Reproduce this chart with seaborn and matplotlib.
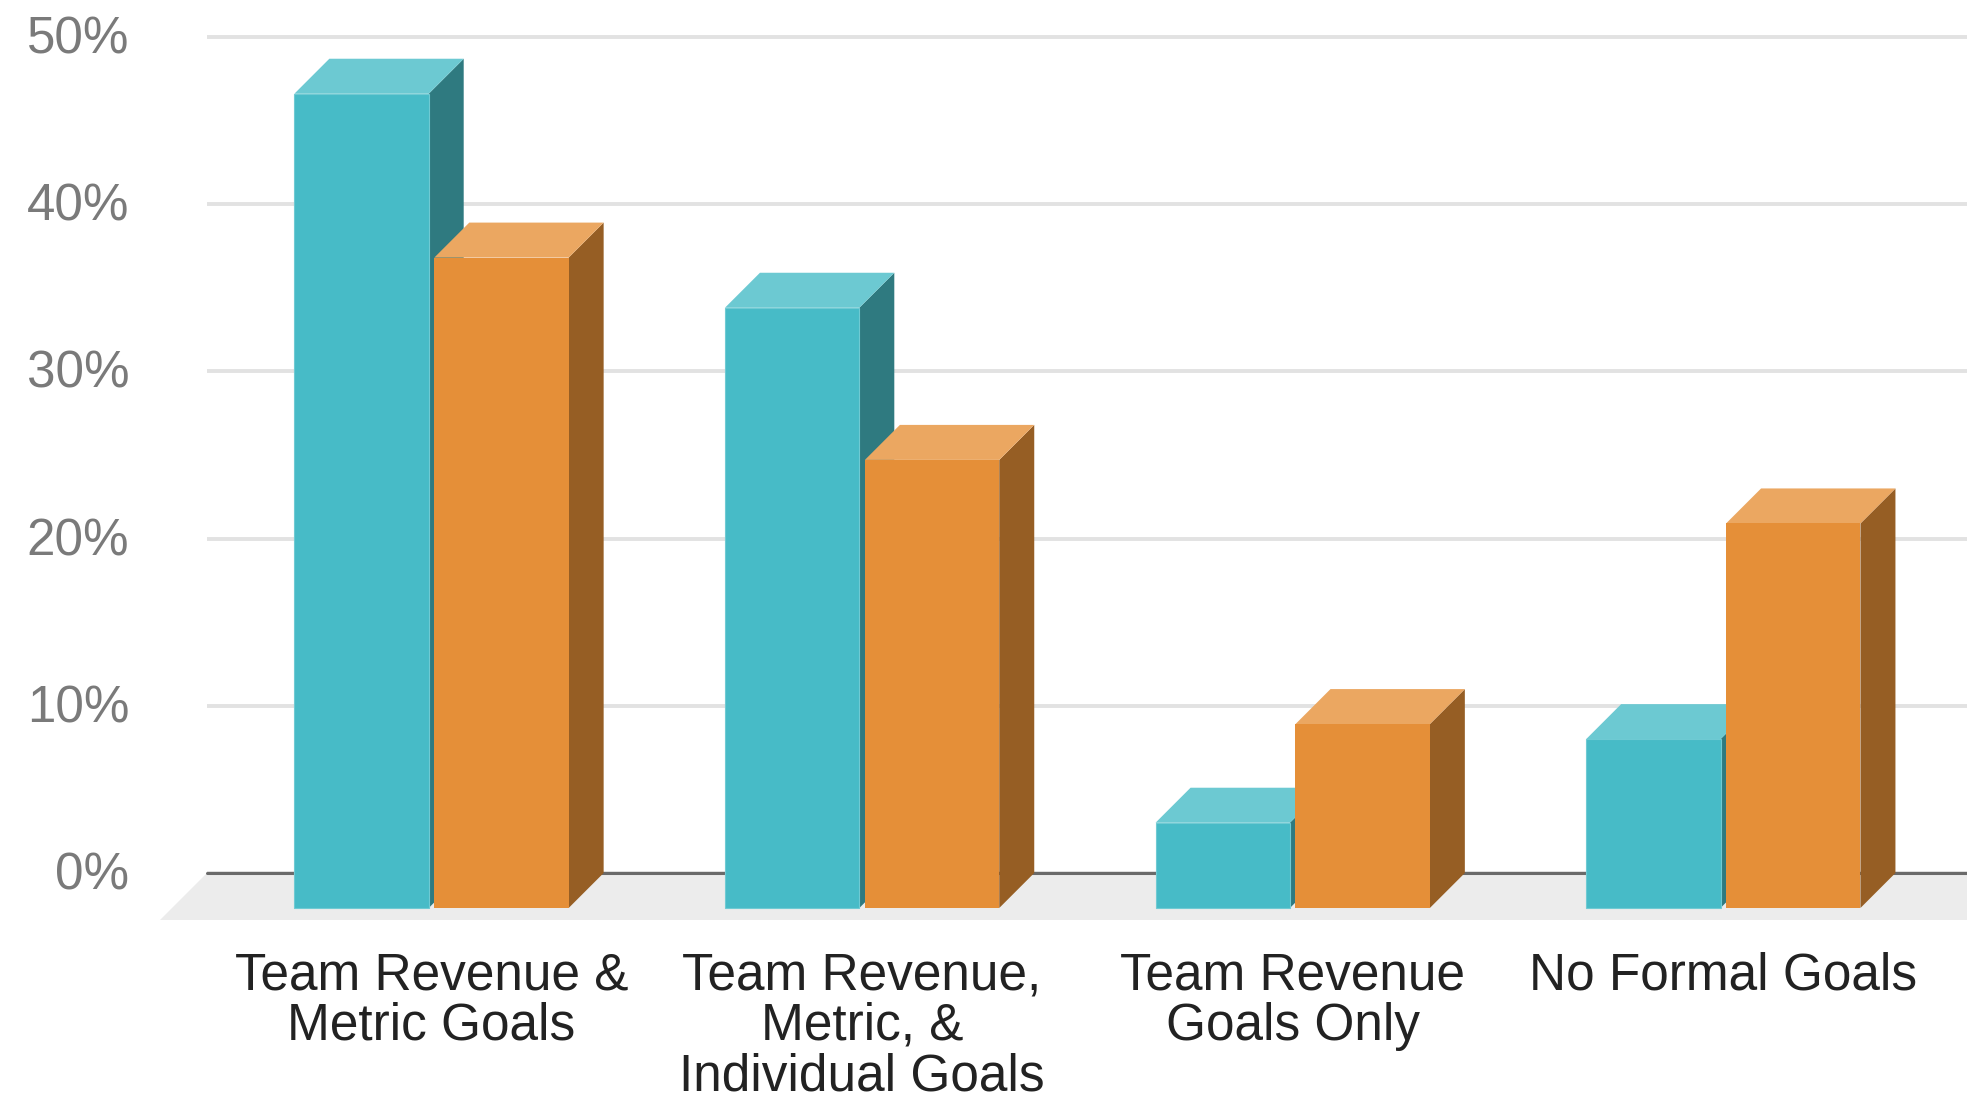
import numpy as np
import pandas as pd
import matplotlib
matplotlib.use("Agg")
import matplotlib.pyplot as plt
from matplotlib.patches import Polygon
from matplotlib.transforms import ScaledTranslation
import seaborn as sns

categories = ["Team Revenue &\nMetric Goals",
              "Team Revenue,\nMetric, &\nIndividual Goals",
              "Team Revenue\nGoals Only",
              "No Formal Goals"]
series_names = ["Teal", "Orange"]
teal_values = [48.7, 35.9, 5.1, 10.1]
orange_values = [38.9, 26.8, 11.0, 23.0]
y_ticks = [0, 10, 20, 30, 40, 50]
y_tick_labels = ["0%", "10%", "20%", "30%", "40%", "50%"]

front = ["#47BBC7", "#E58F38"]
top = ["#6CC9D2", "#EBA761"]
side = ["#2F7A80", "#965E24"]
edge = ["#6FCAD3", "#E58F38"]
edge_w = [0.8, 0]

W, H = 1967, 1093
PX_X = 430.6   # pixels per category
PX_Y = 16.72   # pixels per percentage point
DEPTH_X = 35 / PX_X
DEPTH_Y = 35 / PX_Y
FLOOR_X = 47 / PX_X
FLOOR_Y = 47 / PX_Y
X_ZERO = 431.5
LEFT = 207
BASE = 873

sns.set_theme(style="white")
plt.rcParams["font.family"] = ["Liberation Sans", "DejaVu Sans"]

df = pd.DataFrame({
    "category": categories * 2,
    "series": [series_names[0]] * 4 + [series_names[1]] * 4,
    "value": teal_values + orange_values,
})

fig = plt.figure(figsize=(W / 100, H / 100), dpi=100, facecolor="white")
ax = fig.add_axes([LEFT / W, (H - BASE) / H, (W - LEFT) / W, BASE / H])

sns.barplot(data=df, x="category", y="value", hue="series", order=categories,
            hue_order=series_names, palette=front, width=0.65, gap=0.04,
            legend=False, errorbar=None, ax=ax, linewidth=0, saturation=1)

xlim = ((LEFT - X_ZERO) / PX_X, (W - X_ZERO) / PX_X)
ax.set_xlim(*xlim)
ax.set_ylim(0, BASE / PX_Y)

for s, container in enumerate(ax.containers):
    for bar in container:
        v = bar.get_height()
        x0 = bar.get_x()
        x1 = x0 + bar.get_width()
        bar.set_y(-DEPTH_Y)
        bar.set_clip_on(False)
        bar.set_zorder(4 + 2 * s)
        bar.set_edgecolor(edge[s])
        bar.set_linewidth(edge_w[s])
        yt = v - DEPTH_Y
        ax.add_patch(Polygon([(x1, -DEPTH_Y), (x1 + DEPTH_X, 0), (x1 + DEPTH_X, v), (x1, yt)],
                             closed=True, fc=side[s], ec="none", clip_on=False, zorder=3 + 2 * s))
        ax.add_patch(Polygon([(x0, yt), (x0 + DEPTH_X, v), (x1 + DEPTH_X, v), (x1, yt)],
                             closed=True, fc=top[s], ec="none", clip_on=False, zorder=3 + 2 * s))

# floor
ax.add_patch(Polygon([(xlim[0], 0), (xlim[1], 0), (xlim[1], -FLOOR_Y), (xlim[0] - FLOOR_X, -FLOOR_Y)],
                     closed=True, fc="#ECECEC", ec="none", clip_on=False, zorder=1))
ax.axhline(0, color="#6A6A6A", lw=2.2, zorder=2, clip_on=False)

ax.set_axisbelow(True)
ax.set_yticks(y_ticks)
ax.set_yticklabels(y_tick_labels)
ax.yaxis.grid(True, color="#E2E2E2", lw=2.8)
ax.xaxis.grid(False)
ax.set_xlabel("")
ax.set_ylabel("")
for sp in ax.spines.values():
    sp.set_visible(False)
ax.tick_params(axis="y", length=0, pad=56, labelsize=36.8, labelcolor="#7A7A7A")
ax.tick_params(axis="x", length=0, pad=56.5, labelsize=37, labelcolor="#222222")
for lab in ax.get_xticklabels():
    lab.set_linespacing(1.04)
lift = ScaledTranslation(0, 2.5 / 100, fig.dpi_scale_trans)
for lab in ax.get_yticklabels():
    lab.set_transform(lab.get_transform() + lift)

fig.savefig("out.png", dpi=100, facecolor="white")
